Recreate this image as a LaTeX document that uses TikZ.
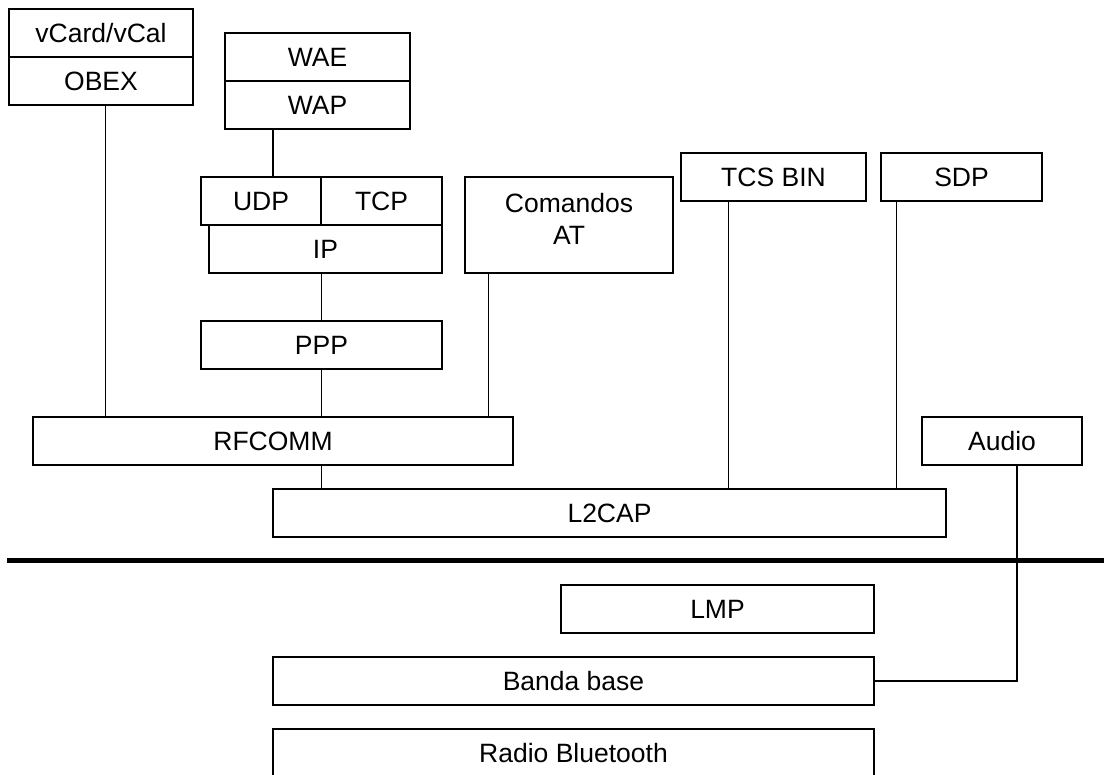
\documentclass[tikz,border=0pt]{standalone}
\usepackage{fontspec}
\setmainfont{Liberation Sans}
\begin{document}
\begin{tikzpicture}[x=1pt,y=-1pt,
  layer/.style={draw,line width=1.6pt,inner sep=0pt,minimum height=48pt,
    text height=18.5pt,text depth=0pt,font=\fontsize{26.5}{32}\selectfont},
  link/.style={line width=1.2pt}]
\useasboundingbox (0,0) rectangle (1104,775);
\node[layer,minimum width=184pt] (vcard) at (101,33) {vCard/vCal};
\node[layer,minimum width=184pt] (obex) at (101,81) {OBEX};
\node[layer,minimum width=185pt] (wae) at (317.5,57) {WAE};
\node[layer,minimum width=185pt] (wap) at (317.5,105) {WAP};
\node[layer,minimum width=120pt] (udp) at (261,201) {UDP};
\node[layer,minimum width=121pt] (tcp) at (381.5,201) {TCP};
\node[layer,minimum width=233pt] (ip) at (325.5,249) {IP};
\node[layer,minimum width=241pt] (ppp) at (321.5,345) {PPP};
\node[layer,minimum width=208pt,minimum height=96pt,text height=,text depth=12pt,
  align=center] (comandos) at (569,225) {Comandos\\AT};
\node[layer,minimum width=185pt] (tcsbin) at (773.5,177) {TCS BIN};
\node[layer,minimum width=161pt] (sdp) at (961.5,177) {SDP};
\node[layer,minimum width=480pt] (rfcomm) at (273,441) {RFCOMM};
\node[layer,minimum width=160pt] (audio) at (1002,441) {Audio};
\node[layer,minimum width=673pt] (l2cap) at (609.5,513) {L2CAP};
\node[layer,minimum width=313pt] (lmp) at (717.5,609) {LMP};
\node[layer,minimum width=601pt] (banda) at (573.5,681) {Banda base};
\node[layer,minimum width=601pt] (radio) at (573.5,753) {Radio Bluetooth};
\draw[line width=5pt] (7,561) -- (1104,561);
\draw[link] ([xshift=4.5pt]obex.south) -- ([xshift=4.5pt]obex.south |- rfcomm.north);
\draw[link] ([xshift=-44.5pt]wap.south) -- ([xshift=-44.5pt]wap.south |- udp.north);
\draw[link] (ppp.north |- ip.south) -- (ppp.north);
\draw[link] (ppp.south) -- (ppp.south |- rfcomm.north);
\draw[link] ([xshift=24pt]comandos.south west) -- ([xshift=24pt]comandos.south west |- rfcomm.north);
\draw[link] (ppp.south |- rfcomm.south) -- (ppp.south |- l2cap.north);
\draw[link] ([xshift=48.5pt]tcsbin.south west) -- ([xshift=48.5pt]tcsbin.south west |- l2cap.north);
\draw[link] ([xshift=16.5pt]sdp.south west) -- ([xshift=16.5pt]sdp.south west |- l2cap.north);
\draw[link] ([xshift=15pt]audio.south) |- (banda.east);
\end{tikzpicture}
\end{document}
